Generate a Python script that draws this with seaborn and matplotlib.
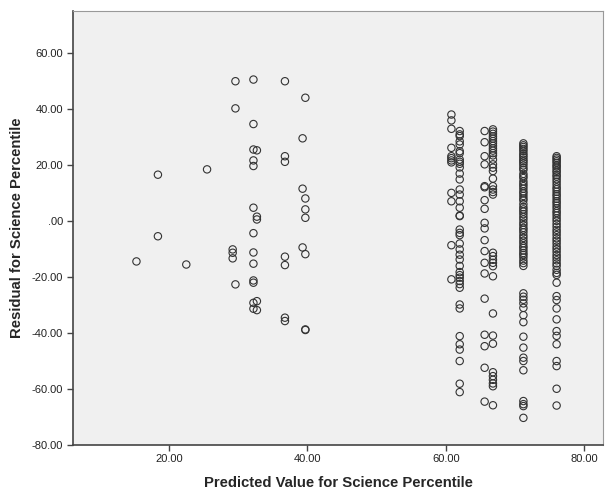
import pandas as pd
import matplotlib
matplotlib.use('Agg')
import matplotlib.pyplot as plt
import seaborn as sns

# Low predicted values (scattered points): predicted, residual
low_pred = [15.3, 18.4, 18.4, 22.5, 25.5,
            29.6, 29.6, 29.2, 29.2, 29.2, 29.6,
            32.2, 32.2, 32.2, 32.7, 32.2, 32.2, 32.2, 32.7, 32.7, 32.2, 32.2,
            32.2, 32.2, 32.2, 32.2, 32.7, 32.2, 32.7,
            36.75, 36.75, 36.75, 36.75, 36.75, 36.75, 36.75,
            39.7, 39.3, 39.3, 39.7, 39.7, 39.7, 39.3, 39.7, 39.7, 39.7]
low_resid = [-14.4, 16.6, -5.4, -15.5, 18.5,
             50.0, 40.3, -10.1, -11.3, -13.3, -22.6,
             50.6, 34.7, 25.6, 25.3, 21.7, 19.7, 4.8, 1.6, 0.6, -4.3, -11.2,
             -15.2, -21.2, -22.0, -29.2, -28.6, -31.3, -31.8,
             50.0, 23.2, 21.2, -12.7, -15.7, -34.5, -35.7,
             44.1, 29.6, 11.6, 8.1, 4.2, 1.2, -9.4, -11.8, -38.7, -38.9]

# High predicted values (vertical columns)
x_a, resid_a = 60.8, [38.1, 36.0, 33.0, 26.2, 23.2, 22.5, 21.7, 21.0, 10.1, 7.1, -8.6, -20.8]
x_b, resid_b = 62.0, [32.2, 31.0, 30.4, 28.5, 27.4, 25.0, 24.3, 22.0, 21.2, 20.5, 19.2, 17.0,
                      14.9, 11.3, 9.5, 7.1, 4.8, 2.0, 1.8, -3.0, -4.2, -5.0, -8.0, -10.1,
                      -12.0, -13.7, -16.0, -18.2, -19.3, -20.2, -21.4, -22.5, -23.8,
                      -29.8, -31.2, -41.1, -44.0, -45.9, -50.0, -58.1, -61.1]
x_c, resid_c = 65.6, [32.2, 28.2, 23.2, 20.3, 12.5, 12.1, 7.5, 4.4, -0.6, -2.6, -6.8,
                      -10.7, -14.9, -18.7, -27.7, -40.6, -44.7, -52.4, -64.5]
x_d, resid_d = 66.8, [32.8, 32.0, 31.2, 30.3, 29.5, 28.6, 27.8, 26.9, 26.0, 25.2, 24.3,
                      23.5, 22.0, 20.3, 19.1, 17.9, 15.2, 12.5, 11.3, 10.4, 9.5,
                      -11.3, -12.5, -13.8, -14.9, -16.1, -19.7, -33.0, -40.9, -43.8,
                      -54.0, -55.4, -56.7, -58.0, -59.0, -65.8]
x_e, resid_e = 71.2, [27.8, 27.1, 26.5, 25.8, 25.1, 24.2, 23.5, 22.8, 22.0, 21.4, 20.7,
                      19.9, 19.0, 18.3, 16.9, 16.1, 15.4, 14.2, 13.3, 12.5, 11.6, 10.6,
                      9.9, 9.0, 8.1, 7.4, 6.1, 5.0, 4.2, 3.4, 2.5, 1.5, 0.6, -0.5,
                      -1.4, -2.4, -3.1, -4.0, -5.1, -6.0, -7.0, -7.9, -8.9, -9.6,
                      -10.5, -11.4, -12.1, -13.0, -14.1, -15.0, -16.0,
                      -25.8, -27.0, -28.1, -29.4, -31.0, -33.6, -36.1, -41.3, -45.2,
                      -48.8, -50.0, -53.3, -64.3, -65.4, -66.1, -70.3]
x_f, resid_f = 76.0, [23.2, 22.6, 22.0, 21.4, 20.8, 20.0, 19.5, 18.8, 18.0, 17.4, 16.5,
                      15.9, 15.0, 14.1, 13.1, 12.1, 11.4, 10.5, 9.6, 8.9, 8.0, 7.1,
                      6.4, 5.5, 4.6, 3.6, 2.9, 2.0, 1.0, 0.1, -1.0, -2.0, -3.1, -4.0,
                      -5.0, -6.1, -7.0, -8.0, -9.1, -10.0, -11.0, -12.1, -13.0, -14.0,
                      -15.1, -16.0, -17.4, -18.5, -19.2, -22.0, -26.8, -28.2, -31.2,
                      -35.1, -39.3, -41.0, -44.0, -50.0, -51.8, -59.9, -65.9]

rows = list(zip(low_pred, low_resid))
for xv, ys in [(x_a, resid_a), (x_b, resid_b), (x_c, resid_c),
               (x_d, resid_d), (x_e, resid_e), (x_f, resid_f)]:
    rows += [(xv, y) for y in ys]
df = pd.DataFrame(rows, columns=['pred', 'resid'])

sns.set_style('white')
plt.rcParams['font.family'] = ['Liberation Sans', 'DejaVu Sans']

fig = plt.figure(figsize=(6.07, 4.91), dpi=100)
ax = fig.add_axes([0.1208, 0.0937, 0.8726, 0.8839])
ax.set_facecolor('#F0F0F0')

sns.scatterplot(data=df, x='pred', y='resid', ax=ax, marker='o',
                facecolors='none', edgecolor='#333333', linewidth=0.8, s=28)

ax.set_xlim(6.18, 82.7)
ax.set_ylim(-80, 75.1)
ax.set_xticks([20, 40, 60, 80])
ax.set_yticks([60, 40, 20, 0, -20, -40, -60, -80])

def spss_fmt(v, pos=None):
    s = f'{v:.2f}'
    return '.00' if s in ('0.00', '-0.00') else s

ax.xaxis.set_major_formatter(matplotlib.ticker.FuncFormatter(spss_fmt))
ax.yaxis.set_major_formatter(matplotlib.ticker.FuncFormatter(spss_fmt))
ax.tick_params(axis='both', direction='out', length=4.3, width=1, color='#444444',
               labelsize=8, labelcolor='#222222', left=True, bottom=True)
ax.tick_params(axis='y', pad=3)
ax.tick_params(axis='x', pad=2)

for side in ['left', 'bottom']:
    ax.spines[side].set_color('#444444')
    ax.spines[side].set_linewidth(1.2)
for side in ['top', 'right']:
    ax.spines[side].set_color('#999999')
    ax.spines[side].set_linewidth(0.8)

ax.set_xlabel('Predicted Value for Science Percentile', fontsize=10.7, fontweight='bold')
ax.set_ylabel('Residual for Science Percentile', fontsize=10.7, fontweight='bold')
ax.xaxis.set_label_coords(0.5, -0.071)
ax.yaxis.set_label_coords(-0.093, 0.5)

fig.savefig('out.png', dpi=100)
